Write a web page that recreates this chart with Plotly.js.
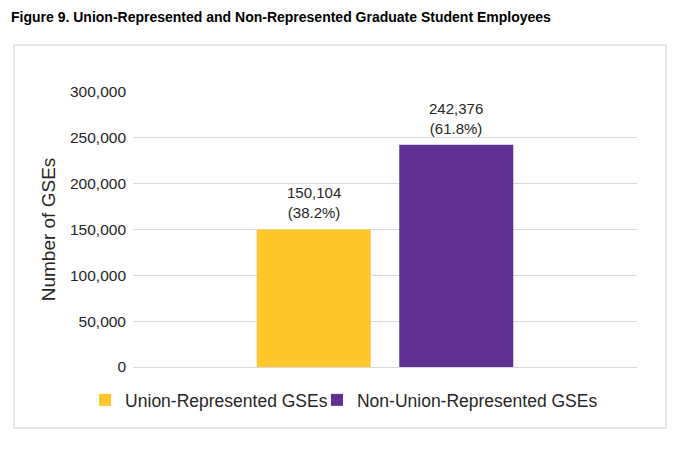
<!DOCTYPE html>
<html>
<head>
<meta charset="utf-8">
<script src="https://cdn.plot.ly/plotly-3.0.1.min.js"></script>
<style>
  html, body { margin: 0; padding: 0; background: #fff; }
  #myDiv { width: 680px; height: 459px; }
</style>
</head>
<body>
<div id="myDiv"></div>
<script>
var seriesNames = ['Union-Represented GSEs', 'Non-Union-Represented GSEs'];
var barSlots = ['union', 'nonunion'];
var gseCounts = [150104, 242376];
var gseShares = ['38.2%', '61.8%'];
var barColors = ['#FFC72C', '#5F2F91'];
var yTicks = [0, 50000, 100000, 150000, 200000, 250000, 300000];

var legendIds = ['legend', 'legend2'];
var legendX = [-0.095, 0.365];

var data = seriesNames.map(function (name, i) {
  return {
    x: [barSlots[i]],
    y: [gseCounts[i]],
    name: name,
    type: 'bar',
    width: 0.8,
    legend: legendIds[i],
    marker: { color: barColors[i] },
    hoverinfo: 'none'
  };
});

// value labels above the bars
var labels = seriesNames.map(function (name, i) {
  return {
    x: barSlots[i],
    y: gseCounts[i],
    xref: 'x',
    yref: 'y',
    text: gseCounts[i].toLocaleString('en-US') + '<br>(' + gseShares[i] + ')',
    showarrow: false,
    yanchor: 'bottom',
    yshift: 6,
    font: { family: 'Liberation Sans, Arial, sans-serif', size: 15, color: '#262626' }
  };
});

function legendBox(x) {
  return {
    orientation: 'h',
    x: x,
    xanchor: 'left',
    y: -0.12,
    yanchor: 'middle',
    bgcolor: 'rgba(0,0,0,0)',
    font: { size: 17.5, color: '#262626' }
  };
}

var layout = {
  width: 680,
  height: 459,
  margin: { l: 133, r: 43, t: 92, b: 92 },
  paper_bgcolor: '#fff',
  plot_bgcolor: '#fff',
  font: { family: 'Liberation Sans, Arial, sans-serif', color: '#262626' },
  title: {
    text: '<b>Figure 9. Union-Represented and Non-Represented Graduate Student Employees</b>',
    font: { family: 'Liberation Sans, Arial, sans-serif', size: 14, color: '#000' },
    xref: 'container',
    yref: 'container',
    x: 11 / 680,
    xanchor: 'left',
    y: 1 - 17 / 459,
    yanchor: 'middle'
  },
  barmode: 'overlay',
  showlegend: true,
  legend: legendBox(legendX[0]),
  legend2: legendBox(legendX[1]),
  xaxis: {
    type: 'category',
    range: [-1.268, 2.268],
    showticklabels: false,
    showgrid: false,
    zeroline: false,
    showline: false,
    fixedrange: true
  },
  yaxis: {
    title: {
      text: 'Number of GSEs',
      font: { size: 19, color: '#262626' },
      standoff: 9
    },
    range: [0, 300000],
    tickvals: yTicks,
    ticktext: yTicks.map(function (v) { return v.toLocaleString('en-US'); }),
    tickfont: { size: 15.5, color: '#262626' },
    ticklabelstandoff: 6,
    showgrid: true,
    gridcolor: '#d9d9d9',
    gridwidth: 1,
    zeroline: true,
    zerolinecolor: '#d9d9d9',
    showline: false,
    fixedrange: true
  },
  annotations: labels,
  shapes: [{
    type: 'rect',
    xref: 'paper',
    yref: 'paper',
    x0: -0.236, x1: 1.0575,
    y0: -0.222, y1: 1.171,
    line: { color: '#d0d0d0', width: 1 },
    fillcolor: 'rgba(0,0,0,0)',
    layer: 'below'
  }]
};

Plotly.newPlot('myDiv', data, layout, { displayModeBar: false, staticPlot: true });
</script>
</body>
</html>
